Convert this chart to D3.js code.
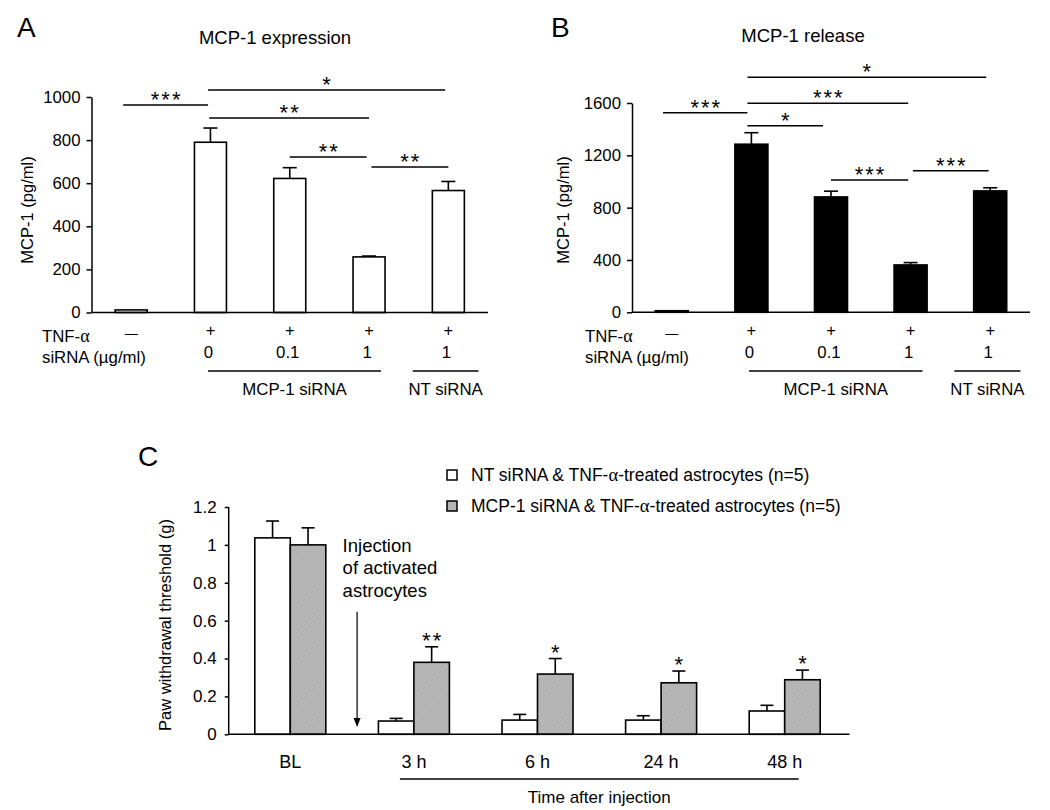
<!DOCTYPE html>
<html><head><meta charset="utf-8">
<script src="https://cdn.jsdelivr.net/npm/d3@7"></script>
<style>
body{margin:0;background:#fff;}
svg text{font-family:"Liberation Sans",Arial,Helvetica,sans-serif;fill:#000;}
</style>
</head><body>
<svg id="fig" width="1050" height="810"></svg>
<script>
// ---------- DATA ----------
const groupsAB = ["ctrl", "s0", "s0.1", "s1", "nt1"];
const tnfLabels = ["\u2014", "+", "+", "+", "+"];
const sirnaLabels = ["", "0", "0.1", "1", "1"];
const expressionValues = [12, 790, 622, 258, 566];
const expressionErrors = [0, 66, 50, 4, 42];
const releaseValues = [12, 1285, 882, 362, 928];
const releaseErrors = [0, 88, 44, 18, 24];
const ticksA = [0, 200, 400, 600, 800, 1000];
const ticksB = [0, 400, 800, 1200, 1600];
// significance brackets: [from (band units), to (band units), level (data units), label]
const sigA = [[-0.1, 0.97, 963, "***"], [0.97, 3.96, 1032, "*"], [0.985, 3.0, 902, "**"], [2.0, 2.97, 721, "**"], [3.03, 4.0, 675, "**"]];
const sigB = [[-0.11, 0.95, 1526, "***"], [0.95, 3.95, 1797, "*"], [0.95, 2.97, 1598, "***"], [0.95, 1.9, 1427, "*"], [2.0, 2.97, 1011, "***"], [3.03, 3.98, 1083, "***"]];
const siRNAGroups = [["MCP-1 siRNA", 0.97, 3.15], ["NT siRNA", 3.55, 4.38]];

const timeGroups = ["BL", "3 h", "6 h", "24 h", "48 h"];
const ntValues = [1.037, 0.070, 0.075, 0.075, 0.123];
const ntErrors = [0.089, 0.014, 0.030, 0.023, 0.030];
const mcpValues = [1.0, 0.38, 0.318, 0.272, 0.288];
const mcpErrors = [0.09, 0.082, 0.082, 0.062, 0.051];
const starsC = ["", "**", "*", "*", "*"];
const ticksC = [0, 0.2, 0.4, 0.6, 0.8, 1, 1.2];
const legendC = ["NT siRNA & TNF-", "MCP-1 siRNA & TNF-"];

// ---------- DRAW ----------
const svg = d3.select("#fig");
const defs = svg.append("defs");
const pat = defs.append("pattern").attr("id", "hatch").attr("width", 3).attr("height", 3)
  .attr("patternUnits", "userSpaceOnUse").attr("patternTransform", "rotate(45)");
pat.append("rect").attr("width", 3).attr("height", 3).attr("fill", "#b8b8b8");
pat.append("line").attr("x1", 0).attr("y1", 0).attr("x2", 0).attr("y2", 3).attr("stroke", "#a8a8a8").attr("stroke-width", 1.2);

const greek = "'Liberation Serif','Times New Roman',serif";

function styleAxis(g, fs) {
  g.attr("font-family", null).attr("font-size", null);
  g.select(".domain").attr("stroke", "#000").attr("stroke-width", 1.5);
  g.selectAll(".tick line").attr("stroke", "#000").attr("stroke-width", 1.5);
  g.selectAll(".tick text").attr("font-size", fs).attr("fill", "#000");
}

function drawPanel(o) {
  const x = d3.scaleBand().domain(groupsAB).range(o.xr).padding(0);
  const step = x.step();
  const pos = f => o.xr[0] + step * (f + 0.5);
  const y = d3.scaleLinear().domain([0, o.max]).range(o.yr);
  const g = svg.append("g");
  const bw = o.barW;

  const ax = g.append("g").attr("transform", `translate(${o.xr[0]},0)`)
    .call(d3.axisLeft(y).tickValues(o.ticks).tickSize(5).tickSizeOuter(0).tickPadding(6).tickFormat(d3.format("d")));
  styleAxis(ax, "16.8px");

  g.selectAll("rect.bar").data(o.values).join("rect")
    .attr("x", (d, i) => x(groupsAB[i]) + (step - bw) / 2)
    .attr("y", d => y(d)).attr("width", bw).attr("height", d => y(0) - y(d))
    .attr("fill", o.fill).attr("stroke", "#000").attr("stroke-width", 1.6);
  o.values.forEach((v, i) => {
    if (!o.errors[i]) return;
    const cx = x(groupsAB[i]) + step / 2;
    g.append("line").attr("x1", cx).attr("x2", cx).attr("y1", y(v)).attr("y2", y(v + o.errors[i])).attr("stroke", "#000").attr("stroke-width", 1.6);
    g.append("line").attr("x1", cx - 7).attr("x2", cx + 7).attr("y1", y(v + o.errors[i])).attr("y2", y(v + o.errors[i])).attr("stroke", "#000").attr("stroke-width", 1.6);
  });
  g.append("line").attr("x1", o.xr[0]).attr("x2", o.xr[1]).attr("y1", y(0)).attr("y2", y(0)).attr("stroke", "#000").attr("stroke-width", 1.6);

  o.sig.forEach(s => {
    const ly = y(s[2]);
    g.append("line").attr("x1", pos(s[0])).attr("x2", pos(s[1])).attr("y1", ly).attr("y2", ly).attr("stroke", "#000").attr("stroke-width", 1.5);
    g.append("text").attr("x", (pos(s[0]) + pos(s[1])) / 2 + 1).attr("y", ly + 2).attr("text-anchor", "middle")
      .attr("font-size", "22px").attr("letter-spacing", "2px").text(s[3]);
  });

  g.append("text").attr("x", o.titleX).attr("y", o.titleY).attr("text-anchor", "middle").attr("font-size", "18.5px").text(o.title);
  g.append("text").attr("x", o.letterX).attr("y", 37).attr("font-size", "28px").text(o.letter);
  g.append("text").attr("transform", `translate(${o.ylabX},210) rotate(-90)`).attr("text-anchor", "middle").attr("font-size", "16.5px").text("MCP-1 (pg/ml)");

  g.append("text").attr("x", o.rowX).attr("y", 342).attr("font-size", "16.8px")
    .text("TNF-").append("tspan").attr("font-family", greek).attr("font-size", "18px").text("\u03b1");
  g.append("text").attr("x", o.rowX).attr("y", 363).attr("font-size", "16.8px").text("siRNA (\u00b5g/ml)");
  tnfLabels.forEach((t, i) => {
    g.append("text").attr("x", x(groupsAB[i]) + step / 2).attr("y", i === 0 ? 333 : 330).attr("dominant-baseline", "central")
      .attr("text-anchor", "middle").attr("font-size", i === 0 ? "13px" : "16.5px").text(t);
  });
  sirnaLabels.forEach((t, i) => {
    if (!t) return;
    g.append("text").attr("x", x(groupsAB[i]) + step / 2 - 2).attr("y", 358).attr("text-anchor", "middle").attr("font-size", "16.8px").text(t);
  });
  siRNAGroups.forEach(sg => {
    g.append("line").attr("x1", pos(sg[1])).attr("x2", pos(sg[2])).attr("y1", 371).attr("y2", 371).attr("stroke", "#000").attr("stroke-width", 1.5);
    g.append("text").attr("x", (pos(sg[1]) + pos(sg[2])) / 2).attr("y", 395).attr("text-anchor", "middle").attr("font-size", "16.8px").text(sg[0]);
  });
}

drawPanel({xr: [91.5, 488], yr: [312.5, 97], max: 1000, ticks: ticksA, values: expressionValues, errors: expressionErrors,
  fill: "#fff", barW: 32, sig: sigA, title: "MCP-1 expression", titleX: 275, titleY: 44, letter: "A", letterX: 17, ylabX: 32.5, rowX: 42});
drawPanel({xr: [632, 1030], yr: [312.3, 103], max: 1600, ticks: ticksB, values: releaseValues, errors: releaseErrors,
  fill: "#000", barW: 33, sig: sigB, title: "MCP-1 release", titleX: 803, titleY: 41.5, letter: "B", letterX: 551, ylabX: 569, rowX: 585});

// ---------- PANEL C ----------
(function () {
  const g = svg.append("g");
  const x = d3.scaleBand().domain(timeGroups).range([231.5, 849.5]).padding(0);
  const step = x.step();
  const bw = 35.5;
  const y = d3.scaleLinear().domain([0, 1.2]).range([734.3, 507]);
  const ax = g.append("g").attr("transform", "translate(228.7,0)")
    .call(d3.axisLeft(y).tickValues(ticksC).tickSize(4).tickSizeOuter(0).tickPadding(8).tickFormat(d => String(+d.toFixed(1))));
  styleAxis(ax, "17px");
  ax.select(".domain").attr("d", `M0,${y(0)}V${y(1.2)}`);

  const series = [
    {vals: ntValues, errs: ntErrors, fill: "#fff", off: -bw},
    {vals: mcpValues, errs: mcpErrors, fill: "url(#hatch)", off: 0}
  ];
  series.forEach(s => {
    s.vals.forEach((v, i) => {
      const cx = x(timeGroups[i]) + step / 2 - 3;
      const bx = cx + s.off;
      const et = y(v + s.errs[i]);
      g.append("line").attr("x1", bx + bw / 2).attr("x2", bx + bw / 2).attr("y1", y(v)).attr("y2", et).attr("stroke", "#000").attr("stroke-width", 1.6);
      g.append("line").attr("x1", bx + bw / 2 - 6.5).attr("x2", bx + bw / 2 + 6.5).attr("y1", et).attr("y2", et).attr("stroke", "#000").attr("stroke-width", 1.6);
      g.append("rect").attr("x", bx).attr("y", y(v)).attr("width", bw).attr("height", y(0) - y(v))
        .attr("fill", s.fill).attr("stroke", "#000").attr("stroke-width", 1.6);
    });
  });
  mcpValues.forEach((v, i) => {
    if (!starsC[i]) return;
    const cx = x(timeGroups[i]) + step / 2 - 3 + bw / 2;
    g.append("text").attr("x", cx + 1).attr("y", y(v + mcpErrors[i]) + 1).attr("text-anchor", "middle")
      .attr("font-size", "22px").attr("letter-spacing", "2px").text(starsC[i]);
  });
  g.append("line").attr("x1", 228.7).attr("x2", 849.5).attr("y1", y(0)).attr("y2", y(0)).attr("stroke", "#000").attr("stroke-width", 1.6);

  timeGroups.forEach((t, i) => {
    g.append("text").attr("x", x(t) + step / 2 - 3).attr("y", 768).attr("text-anchor", "middle").attr("font-size", "18px").text(t);
  });
  const c3 = x("3 h") + step / 2 - 3, c48 = x("48 h") + step / 2 - 3;
  g.append("line").attr("x1", c3 - 14).attr("x2", c48 + 14).attr("y1", 779).attr("y2", 779).attr("stroke", "#000").attr("stroke-width", 1.5);
  g.append("text").attr("x", (c3 + c48) / 2).attr("y", 803).attr("text-anchor", "middle").attr("font-size", "17px").text("Time after injection");

  g.append("text").attr("transform", "translate(171,625) rotate(-90)").attr("text-anchor", "middle").attr("font-size", "16.5px").text("Paw withdrawal threshold (g)");
  g.append("text").attr("x", 138).attr("y", 466).attr("font-size", "28px").text("C");

  const ax0 = x("3 h") + 2;
  ["Injection", "of activated", "astrocytes"].forEach((t, i) => {
    g.append("text").attr("x", ax0 - 14.5).attr("y", 551.7 + i * 22.5).attr("font-size", "18.5px").text(t);
  });
  g.append("line").attr("x1", ax0).attr("x2", ax0).attr("y1", 611.7).attr("y2", 722).attr("stroke", "#000").attr("stroke-width", 1.2);
  g.append("path").attr("d", `M${ax0 - 3.5},718 L${ax0 + 3.5},718 L${ax0},727 Z`).attr("fill", "#000");

  const fills = ["#fff", "url(#hatch)"];
  const ly = [475, 506];
  legendC.forEach((t, i) => {
    g.append("rect").attr("x", 447).attr("y", ly[i] - 5).attr("width", 10).attr("height", 10)
      .attr("fill", fills[i]).attr("stroke", "#000").attr("stroke-width", 1.5);
    const tx = g.append("text").attr("x", 471).attr("y", ly[i] + 6.3).attr("font-size", "17.5px").text(t);
    tx.append("tspan").attr("font-family", greek).attr("font-size", "18.5px").text("\u03b1");
    tx.append("tspan").text("-treated astrocytes (n=5)");
  });
})();
</script>
</body></html>
